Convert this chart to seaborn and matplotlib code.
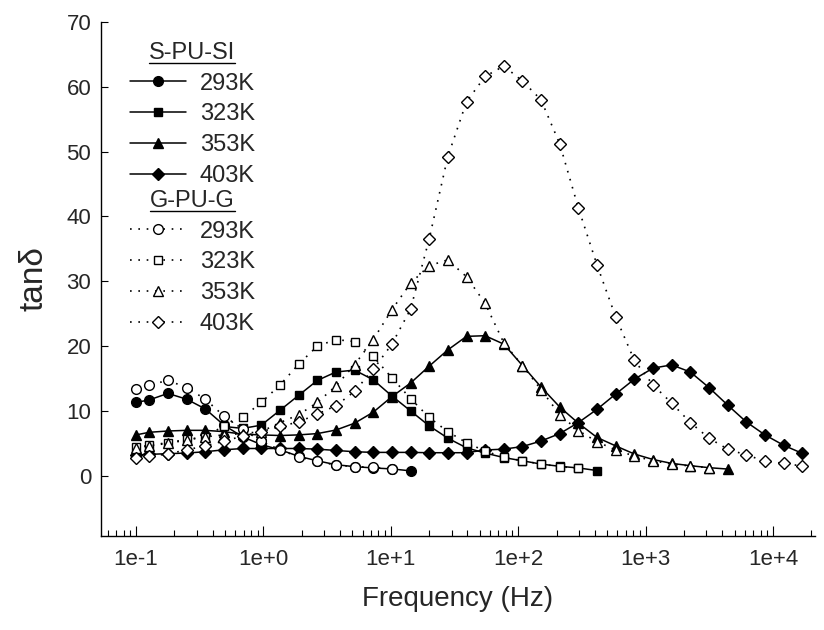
import numpy as np
import pandas as pd
import matplotlib
matplotlib.use("Agg")
import matplotlib.pyplot as plt
import seaborn as sns
from matplotlib.lines import Line2D
from matplotlib.ticker import FixedLocator, LogLocator, FuncFormatter, NullFormatter

# frequency grid (Hz)
freq = [0.1, 0.127, 0.178, 0.250, 0.350, 0.490, 0.687, 0.962, 1.35, 1.89,
        2.65, 3.71, 5.19, 7.28, 10.2, 14.3, 20.0, 28.0, 39.3, 55.0,
        77.1, 108, 151, 212, 297, 416, 583, 817, 1145, 1604,
        2247, 3148, 4410, 6178, 8655, 12126, 16988]

# S-PU-SI (solid lines, filled markers)
s_293 = [11.3, 11.7, 12.7, 11.8, 10.3, 7.8, 6.0, 4.8, 4.0, 3.0, 2.3, 1.7, 1.4, 1.2, 1.05, 0.75]
s_323 = [7.6, 7.3, 7.8, 10.1, 12.4, 14.7, 16.0, 16.3, 14.8, 12.3,
         10.0, 7.7, 5.8, 4.3, 3.5, 2.8, 2.3, 1.8, 1.45, 1.2, 0.8]   # from 0.49 Hz
s_353 = [6.3, 6.7, 6.9, 7.0, 7.0, 6.8, 6.4, 6.3, 6.2, 6.3, 6.5, 7.05, 8.1, 9.8, 12.2,
         14.3, 16.9, 19.4, 21.5, 21.6, 20.3, 17.0, 13.7, 10.6, 8.1, 5.9, 4.6, 3.35, 2.5,
         1.9, 1.55, 1.24, 1.03]
s_403 = [3.2, 3.3, 3.4, 3.5, 3.7, 4.0, 4.2, 4.2, 4.2, 4.2, 4.1, 3.9, 3.7, 3.6, 3.6, 3.6,
         3.55, 3.55, 3.55, 3.97, 4.1, 4.5, 5.35, 6.5, 8.2, 10.25, 12.6, 14.9, 16.6, 17.1,
         16.0, 13.6, 10.9, 8.3, 6.3, 4.7, 3.45]

# G-PU-G (dotted lines, open markers)
g_293 = [13.4, 14.0, 14.7, 13.6, 11.8, 9.2, 7.2, 5.3, 4.0, 2.9, 2.2, 1.65, 1.4, 1.3, 1.1]
g_323 = [4.4, 4.7, 5.1, 5.6, 6.0, 7.7, 9.0, 11.3, 14.0, 17.2, 20.0, 21.0, 20.7, 18.4, 15.1,
         11.9, 9.0, 6.8, 5.1, 3.8, 2.85, 2.3, 1.8, 1.4, 1.15]
g_353 = [4.3, 4.6, 5.0, 5.5, 6.0, 6.3, 6.5, 6.8, 8.2, 9.4, 11.3, 13.85, 17.1, 21.0, 25.6,
         29.7, 32.4, 33.3, 30.7, 26.6, 20.5, 17.0, 13.3, 9.4, 6.95, 5.25, 3.97, 3.04, 2.3,
         1.8, 1.5, 1.24]
g_403 = [2.7, 3.0, 3.35, 4.0, 4.6, 5.35, 6.1, 6.8, 7.6, 8.3, 9.5, 10.8, 13.0, 16.4, 20.3,
         25.7, 36.5, 49.2, 57.7, 61.6, 63.2, 60.9, 58.0, 51.2, 41.3, 32.5, 24.5, 17.8, 14.0,
         11.2, 8.2, 5.8, 4.1, 3.2, 2.27, 1.9, 1.5]

# index into freq where each series starts
s_start = [0, 5, 0, 0]
g_start = [0, 0, 0, 0]

temps = ["293K", "323K", "353K", "403K"]
xtick_vals = [0.1, 1, 10, 100, 1000, 10000]
yticks = [0, 10, 20, 30, 40, 50, 60, 70]

sns.set_theme(style="ticks")
plt.rcParams['font.family'] = ['Liberation Sans', 'DejaVu Sans']

fig = plt.figure(figsize=(8.24, 6.3), dpi=100)
ax = fig.add_axes([0.1226, 0.1492, 0.8665, 0.8159])
ax.set_xscale("log")

markers = ["o", "s", "^", "D"]
msizes = [7, 6.2, 7, 5.8]
dotted = (0, (1, 4))

s_series = [s_293, s_323, s_353, s_403]
g_series = [g_293, g_323, g_353, g_403]

s_handles, g_handles = [], []
for vals, st, m, ms in zip(s_series, s_start, markers, msizes):
    df = pd.DataFrame({"f": freq[st:st + len(vals)], "v": vals})
    sns.lineplot(data=df, x="f", y="v", ax=ax, color="black", linewidth=1.1,
                 marker=m, markersize=ms, markerfacecolor="black",
                 markeredgecolor="black", markeredgewidth=1.0,
                 sort=False, estimator=None, legend=False, zorder=3)
    s_handles.append(Line2D([], [], color="black", linewidth=1.1, marker=m,
                            markersize=ms, markerfacecolor="black",
                            markeredgecolor="black"))
for vals, st, m, ms in zip(g_series, g_start, markers, msizes):
    df = pd.DataFrame({"f": freq[st:st + len(vals)], "v": vals})
    sns.lineplot(data=df, x="f", y="v", ax=ax, color="black", linewidth=1.2,
                 linestyle=dotted, marker=m, markersize=ms,
                 markerfacecolor="white", markeredgecolor="black",
                 markeredgewidth=1.0, sort=False, estimator=None, legend=False,
                 zorder=4)
    g_handles.append(Line2D([], [], color="black", linewidth=1.2, linestyle=dotted,
                            marker=m, markersize=ms, markerfacecolor="white",
                            markeredgecolor="black"))

ax.set_xlim(0.0531, 21400)
ax.set_ylim(-9.3, 70)

ax.xaxis.set_major_locator(FixedLocator(xtick_vals))
ax.xaxis.set_major_formatter(FuncFormatter(lambda x, p: "1e{:+d}".format(int(round(np.log10(x)))).replace("+-", "-")))
ax.xaxis.set_minor_locator(LogLocator(base=10, subs=np.arange(2, 10), numticks=30))
ax.xaxis.set_minor_formatter(NullFormatter())
ax.set_yticks(yticks)

ax.tick_params(axis="x", which="major", direction="in", length=7, width=0.8,
               labelsize=16, pad=9, color="black")
ax.tick_params(axis="x", which="minor", direction="in", length=4.5, width=0.8, color="black")
ax.tick_params(axis="y", which="major", direction="in", length=5, width=0.8,
               labelsize=16, pad=7, color="black")
ax.tick_params(axis="y", which="minor", left=False)

for side in ["top", "right"]:
    ax.spines[side].set_visible(False)
for side in ["left", "bottom"]:
    ax.spines[side].set_color("black")
    ax.spines[side].set_linewidth(1.0)

ax.set_xlabel("Frequency (Hz)", fontsize=20, labelpad=12)
ax.set_ylabel("tan\u03b4", fontsize=24, labelpad=12)
ax.grid(False)

leg_kw = dict(frameon=False, fontsize=17, title_fontsize=17, handlelength=2.35,
              handletextpad=0.6, labelspacing=0.37, borderpad=0.0, borderaxespad=0.0)
leg1 = ax.legend(s_handles, temps, title="S-PU-SI", loc="upper left",
                 bbox_to_anchor=((130 - 101) / 714, (536 - 42) / 514), **leg_kw)
ax.add_artist(leg1)
leg2 = ax.legend(g_handles, temps, title="G-PU-G", loc="upper left",
                 bbox_to_anchor=((130 - 101) / 714, (536 - 190) / 514), **leg_kw)

fig.canvas.draw()
r = fig.canvas.get_renderer()
for lg in (leg1, leg2):
    bb = lg.get_title().get_window_extent(r)
    y = bb.y0 + 1
    fig.add_artist(Line2D([bb.x0 / fig.bbox.width, bb.x1 / fig.bbox.width],
                          [y / fig.bbox.height, y / fig.bbox.height],
                          color="black", linewidth=1.0, transform=fig.transFigure))

fig.savefig("out.png", dpi=100)
